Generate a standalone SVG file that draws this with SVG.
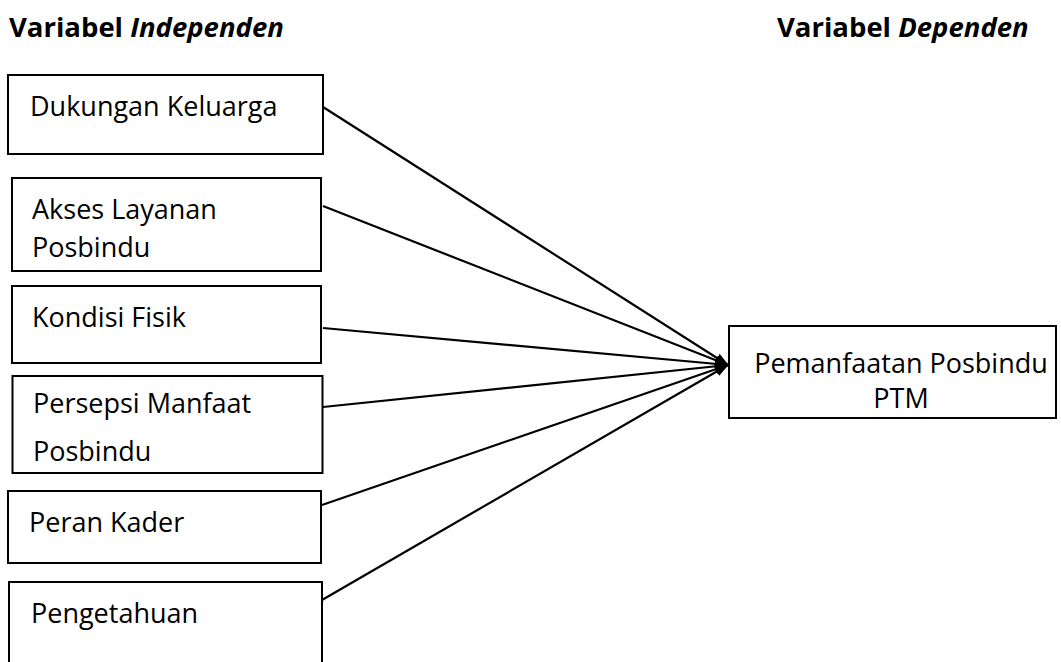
<svg xmlns="http://www.w3.org/2000/svg" width="1061" height="662" viewBox="0 0 1061 662">
<style>
.box{fill:#fff;stroke:#000;stroke-width:2}
.t{font-family:"Open Sans","Noto Sans",sans-serif;font-size:27px;fill:#000}
.h{font-family:"Open Sans","Noto Sans",sans-serif;font-size:27.5px;font-weight:bold;fill:#000}
.c{stroke:#000;stroke-width:2.2;fill:none;marker-end:url(#arr)}
</style>
<defs>
<marker id="arr" markerUnits="userSpaceOnUse" markerWidth="14" markerHeight="10" refX="13" refY="5" orient="auto">
<path d="M0,0 L14,5 L0,10 Z" fill="#000"/>
</marker>
</defs>
<rect width="1061" height="662" fill="#fff"/>
<g id="titles">
<text class="h" x="9" y="37">Variabel <tspan font-style="italic">Independen</tspan></text>
<text class="h" x="777" y="37">Variabel <tspan font-style="italic">Dependen</tspan></text>
</g>
<g id="connectors">
<line class="c" x1="323" y1="107" x2="728" y2="365"/>
<line class="c" x1="323" y1="206" x2="728" y2="365"/>
<line class="c" x1="323" y1="328" x2="728" y2="365"/>
<line class="c" x1="323" y1="407" x2="728" y2="365"/>
<line class="c" x1="322" y1="505" x2="728" y2="365"/>
<line class="c" x1="322" y1="600" x2="728" y2="365"/>
</g>
<g id="n1"><rect class="box" x="8" y="75" width="315" height="79"/><text class="t" x="30" y="116">Dukungan Keluarga</text></g>
<g id="n2"><rect class="box" x="12" y="178" width="309" height="93"/><text class="t" x="32" y="219">Akses Layanan</text><text class="t" x="32" y="257">Posbindu</text></g>
<g id="n3"><rect class="box" x="12" y="286" width="309" height="77"/><text class="t" x="32" y="327">Kondisi Fisik</text></g>
<g id="n4"><rect class="box" x="12.5" y="376" width="310" height="97"/><text class="t" x="33" y="413">Persepsi Manfaat</text><text class="t" x="33" y="461">Posbindu</text></g>
<g id="n5"><rect class="box" x="8" y="491" width="313" height="72"/><text class="t" x="29" y="532">Peran Kader</text></g>
<g id="n6"><rect class="box" x="9" y="582" width="313" height="100"/><text class="t" x="31" y="623">Pengetahuan</text></g>
<g id="target"><rect class="box" x="729" y="326" width="327" height="92"/><text class="t" x="901" y="373" text-anchor="middle">Pemanfaatan Posbindu</text><text class="t" x="901" y="408" text-anchor="middle">PTM</text></g>
</svg>
